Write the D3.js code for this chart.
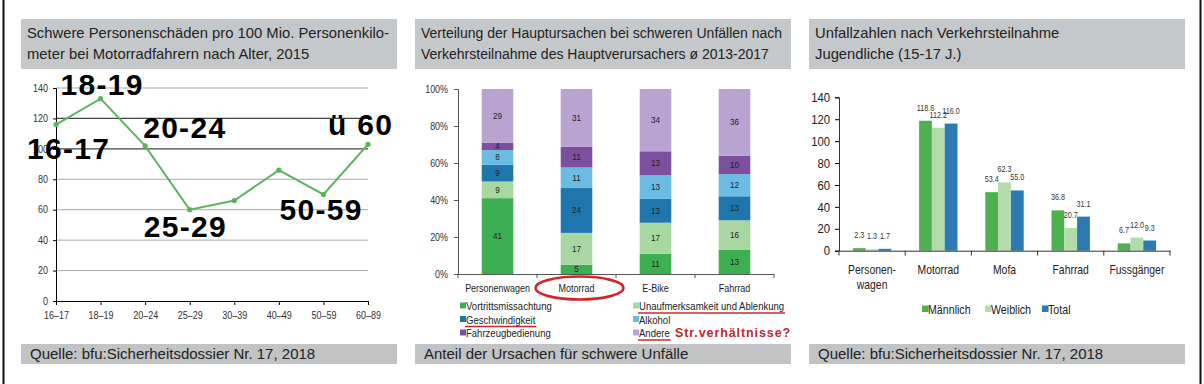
<!doctype html>
<html lang="de">
<head>
  <meta charset="utf-8">
  <title>Motorrad Unfallstatistik</title>
  <script src="https://cdn.jsdelivr.net/npm/d3@7"></script>
  <style>
    body { margin: 0; background: #fff; }
    text { font-family: "Liberation Sans", Arial, sans-serif; }
  </style>
</head>
<body>
  <div id="chart"></div>
  <script type="text/javascript">

    // --- panel 1: Schwere Personenschäden nach Alter
    var ages = ['16–17','18–19','20–24','25–29','30–39','40–49','50–59','60–89'];
    var injuryRate = [116,133,102,60,66,86,70,103];
    var ageNotes = ['16-17','18-19','20-24','25-29','','','50-59','ü 60'];
    var rateTicks = [0,20,40,60,80,100,120,140];

    // --- panel 2: Hauptursachen (Prozent)
    var vehicles = ['Personenwagen','Motorrad','E-Bike','Fahrrad'];
    var causes = ['Vortrittsmissachtung','Unaufmerksamkeit und Ablenkung','Geschwindigkeit','Alkohol','Fahrzeugbedienung','Andere'];
    var vortritt = [41,5,11,13];
    var unaufmerksam = [9,17,17,16];
    var geschwindigkeit = [9,24,13,13];
    var alkohol = [8,11,13,12];
    var bedienung = [4,11,13,10];
    var andere = [29,31,34,36];
    var shareTicks = [0,0.2,0.4,0.6,0.8,1];

    // --- panel 3: Jugendliche 15-17
    var participants = ['Personenwagen','Motorrad','Mofa','Fahrrad','Fussgänger'];
    var genders = ['Männlich','Weiblich','Total'];
    var maennlich = [2.3,118.6,53.4,36.8,6.7];
    var weiblich = [1.3,112.2,62.3,20.7,12.0];
    var total = [1.7,116.0,55.0,31.1,9.3];
    var countTicks = [0,20,40,60,80,100,120,140];

    var width = 1204, height = 384;

    //no narrow font available, so squeeze texts horizontally
    function squeeze(sel, k) {
      sel.each(function() {
        var t = d3.select(this);
        var x = +t.attr('x') || 0, y = +t.attr('y') || 0;
        t.attr('transform','translate('+x+','+y+') scale('+k+',1)').attr('x',0).attr('y',0);
      });
    }

    var svg = d3.select('#chart')
                .append('svg')
                .attr('width', width)
                .attr('height', height);

    // outer frame lines
    svg.append('line').attr('x1',3.5).attr('x2',3.5).attr('y1',0).attr('y2',height)
       .attr('stroke','#111').attr('stroke-width',2);
    svg.append('line').attr('x1',1200.5).attr('x2',1200.5).attr('y1',0).attr('y2',height)
       .attr('stroke','#111').attr('stroke-width',2);

    //grey header / footer boxes of each panel
    var panels = [
      {x:21, size:14.8, title:['Schwere Personenschäden pro 100 Mio. Personenkilo-','meter bei Motorradfahrern nach Alter, 2015'], foot:'Quelle: bfu:Sicherheitsdossier Nr. 17, 2018'},
      {x:415, size:14, title:['Verteilung der Hauptursachen bei schweren Unfällen nach','Verkehrsteilnahme des Hauptverursachers ø 2013-2017'], foot:'Anteil der Ursachen für schwere Unfälle'},
      {x:809, size:14.8, title:['Unfallzahlen nach Verkehrsteilnahme','Jugendliche (15-17 J.)'], foot:'Quelle: bfu:Sicherheitsdossier Nr. 17, 2018'}
    ];

    panels.forEach(function(p) {
      svg.append('rect').attr('x',p.x).attr('y',19).attr('width',376).attr('height',50).attr('fill','#c5c8ca');
      svg.append('rect').attr('x',p.x).attr('y',344).attr('width',376).attr('height',20).attr('fill','#c1c3c4');
      p.title.forEach(function(t,i) {
        svg.append('text').attr('x',p.x+6).attr('y',38+i*21).attr('font-size',p.size).attr('fill','#222').text(t);
      });
      svg.append('text').attr('x',p.x+9).attr('y',359).attr('font-size',15).attr('fill','#222').text(p.foot);
    });

    /* ---------------- panel 1: line chart ---------------- */
    var x1 = d3.scalePoint().domain(ages).range([56,368]);
    var y1 = d3.scaleLinear().domain([0,140]).range([301,88]);

    var g1 = svg.append('g');

    g1.selectAll('.grid1')
      .data(rateTicks.slice(1))
      .enter()
      .append('line')
      .attr('x1',56).attr('x2',368)
      .attr('y1',function(d){return y1(d);}).attr('y2',function(d){return y1(d);})
      .attr('stroke',function(d){return (d===100||d===120) ? '#444' : '#a9a9a9';})
      .attr('stroke-width',function(d){return (d===100||d===120) ? 1.3 : 1;});

    g1.append('g')
      .attr('transform','translate(56,0)')
      .call(d3.axisLeft(y1).tickValues(rateTicks).tickSize(3).tickPadding(5))
      .call(function(g){
        g.selectAll('text').attr('font-size',10).attr('fill','#333').attr('font-family',null).call(squeeze,0.9);
      });

    g1.append('g')
      .attr('transform','translate(0,301)')
      .call(d3.axisBottom(x1).tickSize(4).tickPadding(7).tickSizeOuter(0))
      .call(function(g){
        g.selectAll('text').attr('font-size',10).attr('fill','#333').attr('font-family',null).call(squeeze,0.9);
      });

    var line = d3.line()
                 .x(function(d,i){return x1(ages[i]);})
                 .y(function(d){return y1(d);});

    g1.append('path')
      .attr('d',line(injuryRate))
      .attr('fill','none')
      .attr('stroke','#5db35a')
      .attr('stroke-width',2);

    g1.selectAll('.dot')
      .data(injuryRate)
      .enter()
      .append('circle')
      .attr('cx',function(d,i){return x1(ages[i]);})
      .attr('cy',function(d){return y1(d);})
      .attr('r',2.6)
      .attr('fill','#5db35a');

    //big hand-made age labels, offsets relative to each point
    var noteOffset = [[-29,34],[-40,-4],[-2,-8],[-46,27],[0,0],[0,0],[-44,25],[-40,-9]];
    g1.selectAll('.note')
      .data(injuryRate)
      .enter()
      .append('text')
      .attr('x',function(d,i){return x1(ages[i])+noteOffset[i][0];})
      .attr('y',function(d,i){return y1(d)+noteOffset[i][1];})
      .attr('font-size',30)
      .attr('font-weight','bold')
      .attr('letter-spacing',1.3)
      .attr('fill','#000')
      .text(function(d,i){return ageNotes[i];});

    /* ---------------- panel 2: stacked 100% bars ---------------- */
    var causeTable = vehicles.map(function(v,i) {
      return {vehicle:v,
              'Vortrittsmissachtung':vortritt[i],
              'Unaufmerksamkeit und Ablenkung':unaufmerksam[i],
              'Geschwindigkeit':geschwindigkeit[i],
              'Alkohol':alkohol[i],
              'Fahrzeugbedienung':bedienung[i],
              'Andere':andere[i]};
    });
    var causeColors = ['#3dae52','#a9d7a1','#1f76ad','#6cbbe2','#7c4f9f','#b9a3d1'];
    var color2 = d3.scaleOrdinal().domain(causes).range(causeColors);

    var stacked = d3.stack().keys(causes).offset(d3.stackOffsetExpand)(causeTable);

    var x2 = d3.scaleBand().domain(vehicles).range([458,774]).paddingInner(0.6).paddingOuter(0.3);
    var y2 = d3.scaleLinear().domain([0,1]).range([274,89]);

    var g2 = svg.append('g');

    g2.append('g')
      .attr('transform','translate(458,0)')
      .call(d3.axisLeft(y2).tickValues(shareTicks).tickFormat(d3.format('.0%')).tickSize(4).tickPadding(6))
      .call(function(g){
        g.select('.domain').attr('stroke','#555');
        g.selectAll('.tick line').attr('stroke','#555');
        g.selectAll('text').attr('font-size',10.5).attr('fill','#333').attr('font-family',null).call(squeeze,0.85);
      });

    var layers = g2.selectAll('.layer')
                   .data(stacked)
                   .enter()
                   .append('g')
                   .attr('fill',function(d){return color2(d.key);});

    layers.selectAll('rect')
          .data(function(d){return d;})
          .enter()
          .append('rect')
          .attr('x',function(d){return x2(d.data.vehicle);})
          .attr('width',x2.bandwidth())
          .attr('y',function(d){return y2(d[1]);})
          .attr('height',function(d){return y2(d[0])-y2(d[1]);});

    layers.selectAll('text')
          .data(function(d){ return d.map(function(s){ return {s:s, key:d.key}; }); })
          .enter()
          .append('text')
          .attr('x',function(d){return x2(d.s.data.vehicle)+x2.bandwidth()/2;})
          .attr('y',function(d){return (y2(d.s[0])+y2(d.s[1]))/2+3;})
          .attr('text-anchor','middle')
          .attr('font-size',9)
          .attr('fill','#222')
          .text(function(d){return d.s.data[d.key];})
          .call(squeeze,0.9);

    g2.append('g')
      .attr('transform','translate(0,274)')
      .call(d3.axisBottom(x2).tickSize(0).tickPadding(10).tickSizeOuter(0))
      .call(function(g){
        g.select('.domain').attr('stroke','#555');
        g.selectAll('text').attr('font-size',11.5).attr('fill','#222').attr('font-family',null).call(squeeze,0.78);
      });

    // boundary ticks between categories
    g2.selectAll('.btick')
      .data(d3.range(vehicles.length+1))
      .enter()
      .append('line')
      .attr('x1',function(i){return 458+i*x2.step();})
      .attr('x2',function(i){return 458+i*x2.step();})
      .attr('y1',274).attr('y2',278)
      .attr('stroke','#555');

    // red ellipse around Motorrad
    g2.append('ellipse')
      .attr('cx',x2('Motorrad')+x2.bandwidth()/2+3)
      .attr('cy',288)
      .attr('rx',44).attr('ry',11.5)
      .attr('fill','none')
      .attr('stroke','#d3262b')
      .attr('stroke-width',2.6);

    // legend, 2 columns, row-major
    var legK = 0.83;
    var legend2 = g2.selectAll('.leg2')
                    .data(causes)
                    .enter()
                    .append('g')
                    .attr('transform',function(d,i){
                      return 'translate('+(i%2===0 ? 460 : 633)+','+(306+Math.floor(i/2)*13.5)+')';
                    });

    legend2.append('rect')
           .attr('x',0).attr('y',-3.5).attr('width',6).attr('height',6)
           .attr('fill',function(d){return color2(d);});

    legend2.append('text')
           .attr('x',6).attr('y',4)
           .attr('font-size',11.5)
           .attr('fill','#222')
           .text(function(d){return d;})
           .call(squeeze,legK);

    // red underlines on the causes of interest
    var marked = ['Unaufmerksamkeit und Ablenkung','Geschwindigkeit','Andere'];
    legend2.filter(function(d){return marked.indexOf(d)>=0;})
           .each(function(d) {
             var t = d3.select(this).select('text').node();
             var w = t.getComputedTextLength()*legK;
             d3.select(this).append('line')
               .attr('x1',5).attr('x2',6+w+1)
               .attr('y1',7).attr('y2',7)
               .attr('stroke','#c92a2e').attr('stroke-width',1.6);
           });

    g2.append('text')
      .attr('x',675).attr('y',337)
      .attr('font-size',12.5)
      .attr('font-weight','bold')
      .attr('letter-spacing',0.9)
      .attr('fill','#c2272d')
      .text('Str.verhältnisse?');

    /* ---------------- panel 3: grouped bars ---------------- */
    var genderValues = [maennlich, weiblich, total];
    var genderColors = ['#4fb04f','#b3dcab','#2b7bb2'];
    var color3 = d3.scaleOrdinal().domain(genders).range(genderColors);

    var x3 = d3.scaleBand().domain(participants).range([839,1170]).paddingInner(0.42).paddingOuter(0.21);
    var xg = d3.scaleBand().domain(genders).range([0,x3.bandwidth()]);
    var y3 = d3.scaleLinear().domain([0,140]).range([250.7,97.3]);

    var g3 = svg.append('g');

    g3.append('g')
      .attr('transform','translate(839,0)')
      .call(d3.axisLeft(y3).tickValues(countTicks).tickSize(4).tickPadding(5))
      .call(function(g){
        g.select('.domain').attr('stroke','#333');
        g.selectAll('text').attr('font-size',13).attr('fill','#222').attr('font-family',null).call(squeeze,0.87);
      });

    var groups = g3.selectAll('.grp')
                   .data(participants)
                   .enter()
                   .append('g')
                   .attr('transform',function(d){return 'translate('+x3(d)+',0)';});

    var bars = groups.selectAll('rect')
                     .data(function(d,i){ return genders.map(function(gn,j){ return {g:gn, v:genderValues[j][i]}; }); })
                     .enter();

    bars.append('rect')
        .attr('x',function(d){return xg(d.g);})
        .attr('width',xg.bandwidth())
        .attr('y',function(d){return y3(d.v);})
        .attr('height',function(d){return y3(0)-y3(d.v);})
        .attr('fill',function(d){return color3(d.g);});

    bars.append('text')
        .attr('x',function(d){return xg(d.g)+xg.bandwidth()/2;})
        .attr('y',function(d){return y3(d.v)-10;})
        .attr('text-anchor','middle')
        .attr('font-size',8.5)
        .attr('fill','#333')
        .text(function(d){return d3.format('.1f')(d.v);})
        .call(squeeze,0.85);

    g3.append('g')
      .attr('transform','translate(0,250.7)')
      .call(d3.axisBottom(x3).tickSize(0).tickPadding(14).tickSizeOuter(0))
      .call(function(g){
        g.select('.domain').attr('stroke','#333');
        g.selectAll('text').attr('font-size',13).attr('fill','#222').attr('font-family',null);
        g.selectAll('text').filter(function(d){return d==='Personenwagen';})
         .text(null)
         .call(function(t){
           t.append('tspan').attr('x',0).text('Personen-');
           t.append('tspan').attr('x',0).attr('dy','1.15em').text('wagen');
         });
        g.selectAll('text').call(squeeze,0.8);
      });

    g3.selectAll('.btick3')
      .data(d3.range(participants.length+1))
      .enter()
      .append('line')
      .attr('x1',function(i){return 839+i*x3.step();})
      .attr('x2',function(i){return 839+i*x3.step();})
      .attr('y1',250.7).attr('y2',255.5)
      .attr('stroke','#333');

    var legend3 = g3.selectAll('.leg3')
                    .data(genders)
                    .enter()
                    .append('g')
                    .attr('transform',function(d,i){ return 'translate('+[922,985,1042][i]+',309)'; });

    legend3.append('rect')
           .attr('x',0).attr('y',-3.5).attr('width',6.5).attr('height',6.5)
           .attr('fill',function(d){return color3(d);});

    legend3.append('text')
           .attr('x',6).attr('y',4.5)
           .attr('font-size',13)
           .attr('fill','#222')
           .text(function(d){return d;})
           .call(squeeze,0.82);

  </script>
</body>
</html>
